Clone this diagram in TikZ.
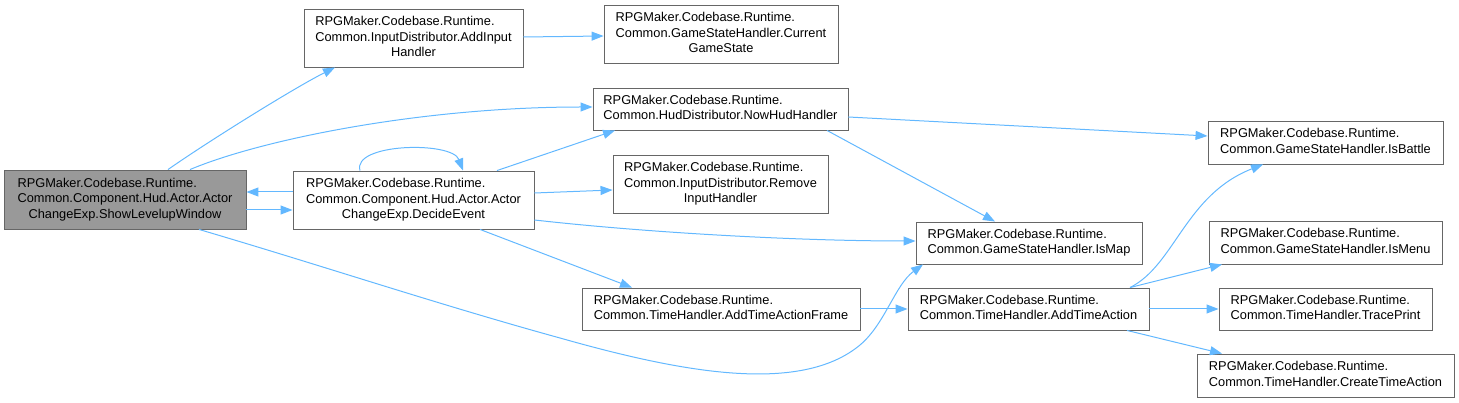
\documentclass[tikz,border=0pt]{standalone}
\usepackage{fontspec}
\setmainfont{Liberation Sans}
\usetikzlibrary{arrows.meta}
\definecolor{edgeblue}{HTML}{63B8FF}
\definecolor{boxborder}{HTML}{666666}
\definecolor{rootfill}{HTML}{999999}
\newcommand{\twol}[2]{\begin{tabular}{@{}l@{}}#1\\#2\end{tabular}}
\newcommand{\threel}[3]{\begin{tabular}{@{}l@{}}#1\\#2\\\multicolumn{1}{@{}c@{}}{#3}\end{tabular}}
\tikzset{
  fn/.style={draw=boxborder, line width=0.9pt, fill=white, inner sep=0pt, rectangle,
    font=\fontsize{12.8}{15.5}\selectfont, text=black},
  rootfn/.style={fn, fill=rootfill},
  conn/.style={draw=edgeblue, line width=1pt, -{Triangle[length=12pt,width=9pt]}}
}
\begin{document}
\begin{tikzpicture}[x=1pt,y=-1pt]
\useasboundingbox (0,0) rectangle (1459,403);
% nodes
\node[rootfn, minimum width=242pt, minimum height=59pt] (A) at (125,199.5)
  {\threel{RPGMaker.Codebase.Runtime.}{Common.Component.Hud.Actor.Actor}{ChangeExp.ShowLevelupWindow}};
\node[fn, minimum width=241pt, minimum height=58pt] (B) at (413.5,200)
  {\threel{RPGMaker.Codebase.Runtime.}{Common.Component.Hud.Actor.Actor}{ChangeExp.DecideEvent}};
\node[fn, minimum width=219pt, minimum height=58pt] (C) at (413.5,38)
  {\threel{RPGMaker.Codebase.Runtime.}{Common.InputDistributor.AddInput}{Handler}};
\node[fn, minimum width=234pt, minimum height=58pt] (D) at (721,34)
  {\threel{RPGMaker.Codebase.Runtime.}{Common.GameStateHandler.Current}{GameState}};
\node[fn, minimum width=255pt, minimum height=42pt] (E) at (720.5,109)
  {\twol{RPGMaker.Codebase.Runtime.}{Common.HudDistributor.NowHudHandler}};
\node[fn, minimum width=215pt, minimum height=58pt] (F) at (720.5,184)
  {\threel{RPGMaker.Codebase.Runtime.}{Common.InputDistributor.Remove}{InputHandler}};
\node[fn, minimum width=226pt, minimum height=42pt] (G) at (1029,243)
  {\twol{RPGMaker.Codebase.Runtime.}{Common.GameStateHandler.IsMap}};
\node[fn, minimum width=278pt, minimum height=42pt] (H) at (721,309)
  {\twol{RPGMaker.Codebase.Runtime.}{Common.TimeHandler.AddTimeActionFrame}};
\node[fn, minimum width=241pt, minimum height=42pt] (I) at (1028.5,309)
  {\twol{RPGMaker.Codebase.Runtime.}{Common.TimeHandler.AddTimeAction}};
\node[fn, minimum width=235pt, minimum height=43pt] (J) at (1325.5,142.5)
  {\twol{RPGMaker.Codebase.Runtime.}{Common.GameStateHandler.IsBattle}};
\node[fn, minimum width=233pt, minimum height=43pt] (K) at (1325.5,242.5)
  {\twol{RPGMaker.Codebase.Runtime.}{Common.GameStateHandler.IsMenu}};
\node[fn, minimum width=213pt, minimum height=42pt] (L) at (1325.5,309)
  {\twol{RPGMaker.Codebase.Runtime.}{Common.TimeHandler.TracePrint}};
\node[fn, minimum width=257pt, minimum height=43pt] (M) at (1325.5,375.5)
  {\twol{RPGMaker.Codebase.Runtime.}{Common.TimeHandler.CreateTimeAction}};
% connectors
\draw[conn] ([xshift=43pt]A.north) .. controls +(40,-28) and +(-40,20) .. ([xshift=-78.5pt]C.south);
\draw[conn] ([xshift=65pt]A.north) .. controls (260,140) and (420,107) .. ([yshift=2pt]E.west);
\draw[conn] ([yshift=-10.5pt]A.east) -- ([yshift=-10pt]B.west);
\draw[conn] ([yshift=8pt]B.west) -- ([yshift=7.5pt]A.east);
\draw[conn] ([xshift=74pt]A.south) .. controls (320,265) and (440,305) .. (560,338)
  .. controls (680,372) and (800,395) .. (860,345)
  .. controls (885,324) and (895,285) .. ([xshift=-106pt]G.south);
\draw[conn] ([xshift=-53.5pt]B.north) .. controls (352,143) and (452,141) .. ([xshift=49.5pt]B.north);
\draw[conn] ([xshift=83.5pt]B.north) -- ([xshift=-105.5pt]E.south);
\draw[conn] ([yshift=7pt]B.east) -- ([yshift=-6pt]F.west);
\draw[conn] ([yshift=-20pt]B.east) .. controls (650,233) and (800,241) .. ([yshift=2pt]G.west);
\draw[conn] ([xshift=66.5pt]B.south) -- ([xshift=-89pt]H.north);
\draw[conn] ([yshift=1pt]C.east) -- ([yshift=-2pt]D.west);
\draw[conn] ([yshift=-8pt]E.east) -- ([yshift=6.5pt]J.west);
\draw[conn] ([xshift=106.5pt]E.south) -- ([xshift=-34pt]G.north);
\draw[conn] (H.east) -- (I.west);
\draw[conn] ([xshift=101.5pt]I.north) .. controls (1175,265) and (1185,195) .. ([xshift=-62.5pt]J.south);
\draw[conn] ([xshift=101.5pt]I.north) -- ([xshift=-103.5pt]K.south);
\draw[conn] (I.east) -- (L.west);
\draw[conn] ([xshift=98.5pt]I.south) -- ([xshift=-103.5pt]M.north);
\end{tikzpicture}
\end{document}
